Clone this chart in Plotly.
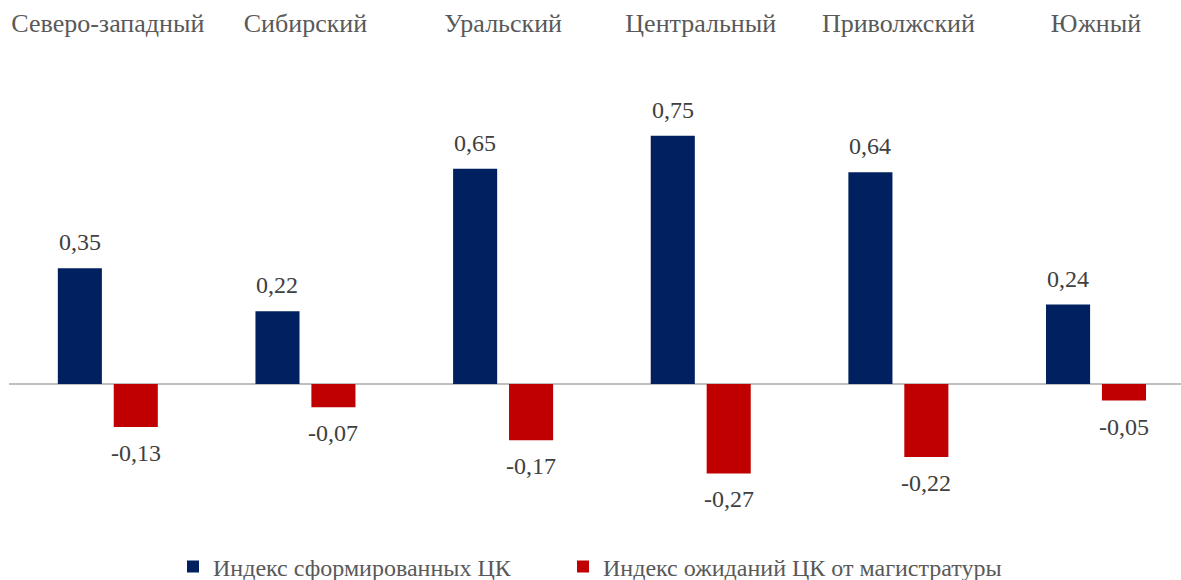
import plotly.graph_objects as go

categories = ["Северо-западный", "Сибирский", "Уральский", "Центральный", "Приволжский", "Южный"]
formed = [0.35, 0.22, 0.65, 0.75, 0.64, 0.24]
expected = [-0.13, -0.07, -0.17, -0.27, -0.22, -0.05]
series_names = ["Индекс сформированных ЦК", "Индекс ожиданий ЦК от магистратуры"]

BLUE = "#002060"
RED = "#C00000"
FONT = "Liberation Serif"

x_idx = list(range(len(categories)))
bw = 0.223

fig = go.Figure()
fig.add_trace(go.Bar(x=x_idx, y=formed, name=series_names[0], marker_color=BLUE,
                     width=bw, offset=-0.253, marker_line_width=0, legend="legend"))
fig.add_trace(go.Bar(x=x_idx, y=expected, name=series_names[1], marker_color=RED,
                     width=bw, offset=0.030, marker_line_width=0, legend="legend2"))

annotations = []
for i, v in enumerate(formed):
    annotations.append(dict(x=i - 0.253 + bw / 2, y=v, xref="x", yref="y",
                            text=f"{v:.2f}".replace(".", ","), showarrow=False,
                            yshift=26, yanchor="middle",
                            font=dict(family=FONT, size=24, color="#404040")))
for i, v in enumerate(expected):
    annotations.append(dict(x=i + 0.030 + bw / 2, y=v, xref="x", yref="y",
                            text=f"{v:.2f}".replace(".", ","), showarrow=False,
                            yshift=-26, yanchor="middle",
                            font=dict(family=FONT, size=24, color="#404040")))

legend_common = dict(orientation="h", xref="container", yref="container",
                     xanchor="left", y=13 / 580, yanchor="middle",
                     font=dict(family=FONT, size=24, color="#595959"), itemwidth=30)

fig.update_layout(
    width=1181, height=580,
    margin=dict(l=9, r=0, t=50, b=40),
    paper_bgcolor="white", plot_bgcolor="white",
    barmode="overlay",
    showlegend=True,
    annotations=annotations,
    legend=dict(x=173 / 1181, **legend_common),
    legend2=dict(x=563 / 1181, **legend_common),
    xaxis=dict(side="top", tickmode="array", tickvals=x_idx, ticktext=categories,
               range=[-0.5, 5.43], showgrid=False, showline=False, ticks="",
               tickfont=dict(family=FONT, size=26, color="#595959"),
               ticklabelstandoff=12),
    yaxis=dict(range=[-0.471, 1.009], showgrid=False, showticklabels=False,
               zeroline=True, zerolinecolor="#BFBFBF", zerolinewidth=2, ticks=""),
)

fig.write_html("out.html")
